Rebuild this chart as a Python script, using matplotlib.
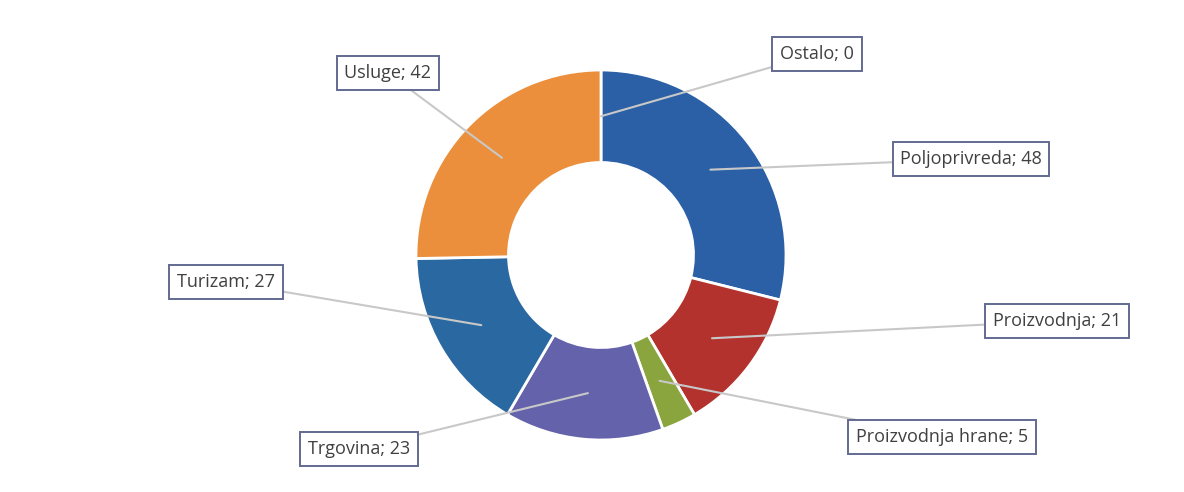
import numpy as np
import matplotlib.pyplot as plt

categories = ['Ostalo', 'Poljoprivreda', 'Proizvodnja', 'Proizvodnja hrane',
              'Trgovina', 'Turizam', 'Usluge']
values = [0, 48, 21, 5, 23, 27, 42]
colors = ['#7f7f7f', '#2b60a6', '#b3322d', '#8aa53d', '#6462aa', '#2a68a2', '#eb8f3c']

# label box centres (pixels, from top-left)
label_pos = [(817, 54), (971, 159), (1057, 321), (942, 437),
             (359, 449), (226, 282), (388, 73)]

W, H = 1184, 492
cx, cy, R = 601, H - 255, 185

plt.rcParams['font.family'] = ['Open Sans', 'DejaVu Sans']

fig = plt.figure(figsize=(W / 100, H / 100), dpi=100)
ax = fig.add_axes([0, 0, 1, 1])

wedges, _ = ax.pie(values, colors=colors, startangle=90, counterclock=False,
                   center=(cx, cy), radius=R,
                   wedgeprops=dict(width=R * 0.5, edgecolor='white', linewidth=2))
ax.set_xlim(0, W)
ax.set_ylim(0, H)
ax.set_aspect('equal')
ax.axis('off')

total = sum(values)
start = 90.0
for name, v, (lx, ly) in zip(categories, values, label_pos):
    span = v / total * 360
    mid = np.deg2rad(start - span / 2)
    start -= span
    r = R * 0.75
    px, py = cx + r * np.cos(mid), cy + r * np.sin(mid)
    ax.annotate(f'{name}; {v}', xy=(px, py), xytext=(lx, H - ly),
                ha='center', va='center', fontsize=13, color='#404040',
                bbox=dict(boxstyle='square,pad=0.42', fc='white', ec='#636a92', lw=1.4),
                arrowprops=dict(arrowstyle='-', color='#c8c8c8', lw=1.5,
                                shrinkA=0, shrinkB=0))

fig.savefig('out.png', dpi=100, facecolor='white')
